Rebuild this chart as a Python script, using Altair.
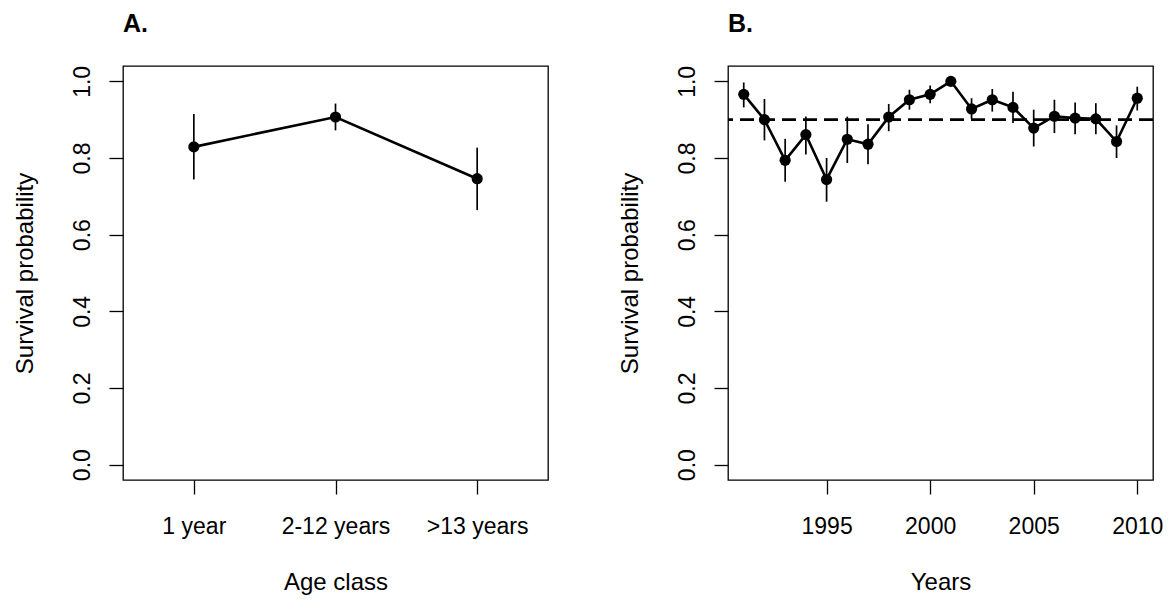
import altair as alt
import pandas as pd

# Panel A data
age_classes = ["1 year", "2-12 years", ">13 years"]
age_surv = [0.829, 0.907, 0.746]
age_lo = [0.744, 0.872, 0.664]
age_hi = [0.915, 0.942, 0.827]

# Panel B data
years = list(range(1991, 2011))
year_surv = [0.966, 0.900, 0.794, 0.861, 0.744, 0.849, 0.836, 0.907, 0.952, 0.966,
             1.000, 0.928, 0.952, 0.932, 0.878, 0.909, 0.904, 0.902, 0.843, 0.956]
year_lo = [0.932, 0.846, 0.738, 0.809, 0.686, 0.787, 0.784, 0.870, 0.926, 0.943,
           1.000, 0.902, 0.921, 0.891, 0.830, 0.865, 0.862, 0.862, 0.800, 0.924]
year_hi = [0.997, 0.954, 0.850, 0.908, 0.800, 0.908, 0.888, 0.941, 0.978, 0.989,
           1.000, 0.956, 0.980, 0.973, 0.926, 0.952, 0.945, 0.943, 0.885, 0.986]
mean_survival = [0.90]
y_ticks = [0.0, 0.2, 0.4, 0.6, 0.8, 1.0]
year_ticks = [1995, 2000, 2005, 2010]

W, H = 425, 414
FONT = "Liberation Sans"

df_a = pd.DataFrame({"age": age_classes, "s": age_surv, "lo": age_lo, "hi": age_hi})
df_b = pd.DataFrame({"year": years, "s": year_surv, "lo": year_lo, "hi": year_hi})
df_m = pd.DataFrame({"m": mean_survival})

yscale = alt.Scale(domain=[-0.04, 1.04], nice=False, zero=False)


def y_axis():
    return alt.Axis(values=y_ticks, format=".1f", labelAngle=270, labelAlign="center",
                    labelBaseline="alphabetic", tickSize=14, labelPadding=20,
                    title="Survival probability", titleAngle=270, titleBaseline="alphabetic",
                    titleAlign="center", titleX=-91, titleY=H / 2, domain=False, grid=False,
                    labelFontSize=23, titleFontSize=24, titleFontWeight="normal",
                    labelFont=FONT, titleFont=FONT, labelColor="black", titleColor="black",
                    tickColor="black", tickWidth=1.3)


def x_axis(title, **kw):
    return alt.Axis(title=title, labelAngle=0, labelAlign="center", labelBaseline="alphabetic",
                    tickSize=14, labelPadding=39, titleBaseline="alphabetic", titleY=109,
                    titleX=W / 2, titleAlign="center", domain=False, grid=False,
                    labelFontSize=23, titleFontSize=24, titleFontWeight="normal",
                    labelFont=FONT, titleFont=FONT, labelColor="black", titleColor="black",
                    tickColor="black", tickWidth=1.3, labelFlush=False, labelOverlap=False, **kw)


def panel_title(t):
    return alt.TitleParams(text=t, anchor="start", frame="group", font=FONT, fontSize=25,
                           fontWeight="bold", color="black", baseline="alphabetic", offset=8)


# Panel A
xa = alt.X("age:N", sort=age_classes, scale=alt.Scale(type="point", padding=0.5),
           axis=x_axis("Age class"))
base_a = alt.Chart(df_a)
err_a = base_a.mark_rule(color="black", strokeWidth=1.7).encode(
    x=xa, y=alt.Y("lo:Q", scale=yscale, axis=y_axis()), y2="hi:Q")
line_a = base_a.mark_line(color="black", strokeWidth=2.6).encode(x=xa, y=alt.Y("s:Q", scale=yscale))
pts_a = base_a.mark_circle(color="black", opacity=1, size=125).encode(x=xa, y=alt.Y("s:Q", scale=yscale))
panel_a = alt.layer(err_a, line_a, pts_a).properties(width=W, height=H, title=panel_title("A."))

# Panel B
xb = alt.X("year:Q", scale=alt.Scale(domain=[1990.24, 2010.76], nice=False, zero=False),
           axis=x_axis("Years", values=year_ticks, format="d"))
base_b = alt.Chart(df_b)
mean_b = alt.Chart(df_m).mark_rule(color="black", strokeWidth=2.8, strokeDash=[14, 7]).encode(
    y=alt.Y("m:Q", scale=yscale))
err_b = base_b.mark_rule(color="black", strokeWidth=1.7).encode(
    x=xb, y=alt.Y("lo:Q", scale=yscale, axis=y_axis()), y2="hi:Q")
line_b = base_b.mark_line(color="black", strokeWidth=2.6).encode(x=xb, y=alt.Y("s:Q", scale=yscale))
pts_b = base_b.mark_circle(color="black", opacity=1, size=125).encode(x=xb, y=alt.Y("s:Q", scale=yscale))
panel_b = alt.layer(mean_b, err_b, line_b, pts_b).properties(width=W, height=H, title=panel_title("B."))

chart = alt.hconcat(panel_a, panel_b, spacing=68).properties(
    padding={"left": 4, "top": 3, "right": 0, "bottom": 0},
    background="white"
).configure_view(stroke="black", strokeWidth=1.3)

chart.save("out.html", embed_options={"renderer": "svg", "actions": False})
